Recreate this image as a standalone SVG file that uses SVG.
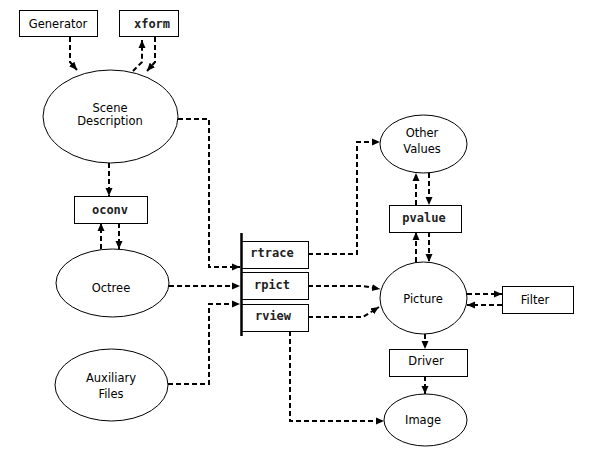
<svg xmlns="http://www.w3.org/2000/svg" width="589" height="460" viewBox="0 0 589 460">
<defs>
<marker id="ah" markerUnits="userSpaceOnUse" markerWidth="9" markerHeight="8" refX="8" refY="4" orient="auto">
<path d="M0,0.5 L8,4 L0,7.5 z" fill="#000"/>
</marker>
<style>
.node{fill:#fff;stroke:#000;stroke-width:1}
.t{font-family:"DejaVu Sans","Liberation Sans",sans-serif;font-size:11.5px;fill:#000;text-anchor:middle}
.m{font-family:"DejaVu Sans Mono","Liberation Mono",monospace;font-size:12px;font-weight:bold;fill:#222;text-anchor:middle}
.c{fill:none;stroke:#000;stroke-width:2;stroke-dasharray:5,3;marker-end:url(#ah)}
.cn{fill:none;stroke:#000;stroke-width:2;stroke-dasharray:5,3}
</style>
</defs>
<rect width="589" height="460" fill="#fff"/>
<g id="connectors">
<path class="c" d="M70,37 V62 L77,70"/>
<path class="c" d="M133,71 L142,62 V40"/>
<path class="c" d="M155,37 V62 L147,71"/>
<path class="c" d="M178,119 H209 V267 H240"/>
<path class="c" d="M109,163 V196"/>
<path class="c" d="M101,249 V223"/>
<path class="c" d="M119,223 V249"/>
<path class="c" d="M169,286 H240"/>
<path class="c" d="M168,384 H209 V304 H240"/>
<path class="c" d="M308,254 H357 V142 H380"/>
<path class="c" d="M308,286 H363 L380,289"/>
<path class="c" d="M308,317 H363 L379,307"/>
<path class="c" d="M290,331 V421 H384"/>
<path class="c" d="M429,173 V205"/>
<path class="c" d="M416,205 V173"/>
<path class="c" d="M416,262 V232"/>
<path class="c" d="M429,232 V262"/>
<path class="c" d="M467,294 H502"/>
<path class="c" d="M502,305 H467"/>
<path class="c" d="M425,334 V349"/>
<path class="c" d="M425,376 V394"/>
</g>
<g id="generator"><rect class="node" x="19.5" y="10.5" width="78" height="26"/><text class="t" x="58" y="28">Generator</text></g>
<g id="xform"><rect class="node" x="119.5" y="10.5" width="59" height="26"/><text class="m" x="152" y="28">xform</text></g>
<g id="scene"><ellipse class="node" cx="110.5" cy="116.5" rx="67.5" ry="46.5"/><text class="t" x="110" y="112">Scene</text><text class="t" x="110" y="125">Description</text></g>
<g id="oconv"><rect class="node" x="74.5" y="196.5" width="73" height="27"/><text class="m" x="110" y="214">oconv</text></g>
<g id="octree"><ellipse class="node" cx="112.5" cy="283" rx="56.5" ry="34"/><text class="t" x="111" y="292">Octree</text></g>
<g id="auxiliary"><ellipse class="node" cx="111.5" cy="385" rx="56.5" ry="36"/><text class="t" x="111" y="382">Auxiliary</text><text class="t" x="111" y="398">Files</text></g>
<g id="rtrace"><rect class="node" x="241.5" y="241.5" width="67" height="27"/><text class="m" x="272" y="257">rtrace</text></g>
<g id="rpict"><rect class="node" x="241.5" y="272.5" width="67" height="27"/><text class="m" x="272" y="289">rpict</text></g>
<g id="rview"><rect class="node" x="241.5" y="304.5" width="67" height="27"/><text class="m" x="273" y="320">rview</text></g>
<g id="bar"><line x1="241.5" y1="233" x2="241.5" y2="336" stroke="#000" stroke-width="2.5"/></g>
<g id="othervalues"><ellipse class="node" cx="423.5" cy="144" rx="43.5" ry="29"/><text class="t" x="422" y="137">Other</text><text class="t" x="422" y="153">Values</text></g>
<g id="pvalue"><rect class="node" x="389.5" y="205.5" width="72" height="27"/><text class="m" x="424" y="222">pvalue</text></g>
<g id="picture"><ellipse class="node" cx="423.5" cy="298" rx="43.5" ry="36"/><text class="t" x="423" y="303">Picture</text></g>
<g id="filter"><rect class="node" x="502.5" y="286.5" width="71" height="27"/><text class="t" x="535" y="304">Filter</text></g>
<g id="driver"><rect class="node" x="389.5" y="349.5" width="78" height="27"/><text class="t" x="426" y="365">Driver</text></g>
<g id="image"><ellipse class="node" cx="425.5" cy="420" rx="41.5" ry="26"/><text class="t" x="423" y="424">Image</text></g>
</svg>
